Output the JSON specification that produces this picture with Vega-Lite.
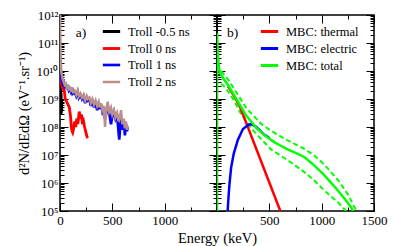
{
"$schema": "https://vega.github.io/schema/vega-lite/v6.json",
"padding": {"left": 15, "top": 8, "right": 5, "bottom": 0},
"bounds": "flush",
"spacing": 0,
"config": {
  "font": "Liberation Serif",
  "view": {"stroke": "black", "strokeWidth": 1.5},
  "axis": {"domain": false, "grid": false, "tickColor": "black", "tickWidth": 1, "labelFont": "Liberation Serif", "labelFontSize": 13, "labelColor": "black", "titleFont": "Liberation Serif", "titleFontSize": 14.5, "titleFontWeight": "normal", "titleColor": "black", "labelOverlap": false, "labelFlush": false},
  "legend": {"orient": "none", "title": null, "symbolType": "stroke", "symbolSize": 300, "symbolStrokeWidth": 3, "labelFont": "Liberation Serif", "labelFontSize": 12.5, "labelColor": "black", "rowPadding": 0, "padding": 0, "labelOffset": 6}
},
"datasets": {
  "left": [
    {"s":"Troll -0.5 ns","E":2,"v":3.98e9},{"s":"Troll -0.5 ns","E":4,"v":3.16e8},{"s":"Troll -0.5 ns","E":6,"v":2.51e9},{"s":"Troll -0.5 ns","E":8,"v":2.82e8},{"s":"Troll -0.5 ns","E":10,"v":1.58e9},{"s":"Troll -0.5 ns","E":12,"v":3.16e8},{"s":"Troll -0.5 ns","E":14,"v":1e9},{"s":"Troll -0.5 ns","E":16,"v":3.98e8},
    {"s":"Troll 0 ns","E":3,"v":5.01e9},{"s":"Troll 0 ns","E":5,"v":7.94e9},{"s":"Troll 0 ns","E":12,"v":3.98e9},{"s":"Troll 0 ns","E":20,"v":2.82e9},{"s":"Troll 0 ns","E":30,"v":2.24e9},{"s":"Troll 0 ns","E":41,"v":2.0e9},{"s":"Troll 0 ns","E":50,"v":1.0e9},{"s":"Troll 0 ns","E":57,"v":8.91e8},{"s":"Troll 0 ns","E":70,"v":7.08e8},{"s":"Troll 0 ns","E":89,"v":5.01e8},{"s":"Troll 0 ns","E":100,"v":2.51e8},{"s":"Troll 0 ns","E":108,"v":1.0e8},{"s":"Troll 0 ns","E":115,"v":7.08e7},{"s":"Troll 0 ns","E":121,"v":6.31e7},{"s":"Troll 0 ns","E":130,"v":8.91e7},{"s":"Troll 0 ns","E":140,"v":1.58e8},{"s":"Troll 0 ns","E":150,"v":1.0e8},{"s":"Troll 0 ns","E":160,"v":2.0e8},{"s":"Troll 0 ns","E":170,"v":1.26e8},{"s":"Troll 0 ns","E":184,"v":3.55e8},{"s":"Troll 0 ns","E":195,"v":2.0e8},{"s":"Troll 0 ns","E":205,"v":2.82e8},{"s":"Troll 0 ns","E":215,"v":1.26e8},{"s":"Troll 0 ns","E":225,"v":1.58e8},{"s":"Troll 0 ns","E":235,"v":1.0e8},{"s":"Troll 0 ns","E":248,"v":6.31e7},{"s":"Troll 0 ns","E":258,"v":4.47e7},{"s":"Troll 0 ns","E":265,"v":3.98e7},
    {"s":"Troll 1 ns","E":1,"v":2.0e10},{"s":"Troll 1 ns","E":4,"v":1.26e10},{"s":"Troll 1 ns","E":8,"v":1.0e10},{"s":"Troll 1 ns","E":12,"v":6.31e9},{"s":"Troll 1 ns","E":18,"v":4.47e9},{"s":"Troll 1 ns","E":26,"v":3.55e9},{"s":"Troll 1 ns","E":35,"v":3.98e9},{"s":"Troll 1 ns","E":45,"v":2.82e9},{"s":"Troll 1 ns","E":55,"v":3.16e9},{"s":"Troll 1 ns","E":65,"v":2.24e9},{"s":"Troll 1 ns","E":74,"v":3.16e9},{"s":"Troll 1 ns","E":85,"v":2.0e9},{"s":"Troll 1 ns","E":95,"v":2.24e9},{"s":"Troll 1 ns","E":105,"v":1.78e9},{"s":"Troll 1 ns","E":115,"v":2.51e9},{"s":"Troll 1 ns","E":125,"v":1.58e9},{"s":"Troll 1 ns","E":140,"v":1.78e9},{"s":"Troll 1 ns","E":155,"v":1.26e9},{"s":"Troll 1 ns","E":169,"v":1.78e9},{"s":"Troll 1 ns","E":180,"v":1.12e9},{"s":"Troll 1 ns","E":195,"v":1.41e9},{"s":"Troll 1 ns","E":210,"v":1.0e9},{"s":"Troll 1 ns","E":225,"v":1.26e9},{"s":"Troll 1 ns","E":240,"v":7.08e8},{"s":"Troll 1 ns","E":255,"v":1.12e9},{"s":"Troll 1 ns","E":265,"v":8.91e8},{"s":"Troll 1 ns","E":280,"v":1.0e9},{"s":"Troll 1 ns","E":295,"v":5.62e8},{"s":"Troll 1 ns","E":310,"v":8.91e8},{"s":"Troll 1 ns","E":325,"v":5.01e8},{"s":"Troll 1 ns","E":340,"v":7.94e8},{"s":"Troll 1 ns","E":355,"v":3.98e8},{"s":"Troll 1 ns","E":370,"v":7.08e8},{"s":"Troll 1 ns","E":380,"v":4.47e8},{"s":"Troll 1 ns","E":392,"v":6.31e8},{"s":"Troll 1 ns","E":405,"v":3.55e8},{"s":"Troll 1 ns","E":420,"v":5.01e8},{"s":"Troll 1 ns","E":430,"v":2.0e8},{"s":"Troll 1 ns","E":440,"v":2.82e8},{"s":"Troll 1 ns","E":455,"v":5.01e8},{"s":"Troll 1 ns","E":470,"v":3.16e8},{"s":"Troll 1 ns","E":487,"v":1.26e8},{"s":"Troll 1 ns","E":500,"v":2.51e8},{"s":"Troll 1 ns","E":515,"v":3.55e8},{"s":"Troll 1 ns","E":530,"v":2.0e8},{"s":"Troll 1 ns","E":545,"v":2.82e8},{"s":"Troll 1 ns","E":555,"v":1.0e8},{"s":"Troll 1 ns","E":566,"v":3.55e7},{"s":"Troll 1 ns","E":575,"v":1.0e8},{"s":"Troll 1 ns","E":583,"v":2.0e8},{"s":"Troll 1 ns","E":595,"v":7.94e7},{"s":"Troll 1 ns","E":610,"v":1.58e8},{"s":"Troll 1 ns","E":620,"v":5.01e7},{"s":"Troll 1 ns","E":630,"v":1.26e8},{"s":"Troll 1 ns","E":640,"v":7.08e7},{"s":"Troll 1 ns","E":646,"v":1.0e8},
    {"s":"Troll 2 ns","E":1,"v":1e12},{"s":"Troll 2 ns","E":3,"v":1.58e11},{"s":"Troll 2 ns","E":5,"v":6.31e10},{"s":"Troll 2 ns","E":8,"v":2.0e10},{"s":"Troll 2 ns","E":12,"v":1.0e10},{"s":"Troll 2 ns","E":18,"v":7.08e9},{"s":"Troll 2 ns","E":26,"v":5.01e9},{"s":"Troll 2 ns","E":35,"v":3.98e9},{"s":"Troll 2 ns","E":45,"v":3.16e9},{"s":"Troll 2 ns","E":55,"v":3.55e9},{"s":"Troll 2 ns","E":65,"v":2.51e9},{"s":"Troll 2 ns","E":74,"v":2.82e9},{"s":"Troll 2 ns","E":85,"v":2.24e9},{"s":"Troll 2 ns","E":95,"v":2.51e9},{"s":"Troll 2 ns","E":105,"v":2.0e9},{"s":"Troll 2 ns","E":115,"v":2.24e9},{"s":"Troll 2 ns","E":125,"v":1.78e9},{"s":"Troll 2 ns","E":140,"v":2.0e9},{"s":"Troll 2 ns","E":155,"v":1.41e9},{"s":"Troll 2 ns","E":169,"v":2.0e9},{"s":"Troll 2 ns","E":180,"v":1.26e9},{"s":"Troll 2 ns","E":195,"v":1.58e9},{"s":"Troll 2 ns","E":210,"v":1.12e9},{"s":"Troll 2 ns","E":225,"v":1.41e9},{"s":"Troll 2 ns","E":240,"v":8.91e8},{"s":"Troll 2 ns","E":255,"v":1.26e9},{"s":"Troll 2 ns","E":265,"v":1.0e9},{"s":"Troll 2 ns","E":280,"v":1.12e9},{"s":"Troll 2 ns","E":295,"v":7.08e8},{"s":"Troll 2 ns","E":310,"v":1.0e9},{"s":"Troll 2 ns","E":325,"v":6.31e8},{"s":"Troll 2 ns","E":340,"v":8.91e8},{"s":"Troll 2 ns","E":355,"v":5.62e8},{"s":"Troll 2 ns","E":370,"v":7.94e8},{"s":"Troll 2 ns","E":380,"v":5.01e8},{"s":"Troll 2 ns","E":392,"v":7.08e8},{"s":"Troll 2 ns","E":405,"v":3.98e8},{"s":"Troll 2 ns","E":420,"v":5.62e8},{"s":"Troll 2 ns","E":430,"v":1.0e8},{"s":"Troll 2 ns","E":440,"v":3.16e8},{"s":"Troll 2 ns","E":455,"v":7.94e8},{"s":"Troll 2 ns","E":470,"v":3.55e8},{"s":"Troll 2 ns","E":487,"v":5.01e8},{"s":"Troll 2 ns","E":500,"v":2.82e8},{"s":"Troll 2 ns","E":515,"v":3.98e8},{"s":"Troll 2 ns","E":530,"v":2.24e8},{"s":"Troll 2 ns","E":545,"v":3.16e8},{"s":"Troll 2 ns","E":560,"v":1.58e8},{"s":"Troll 2 ns","E":575,"v":2.51e8},{"s":"Troll 2 ns","E":583,"v":3.98e8},{"s":"Troll 2 ns","E":595,"v":1.26e8},{"s":"Troll 2 ns","E":610,"v":2.0e8},{"s":"Troll 2 ns","E":620,"v":8.91e7},{"s":"Troll 2 ns","E":630,"v":1.58e8},{"s":"Troll 2 ns","E":640,"v":7.94e7},{"s":"Troll 2 ns","E":646,"v":1.12e8}
  ],
  "right": [
    {"s":"MBC: thermal","E":105,"v":2.82e9},{"s":"MBC: thermal","E":153,"v":1.48e9},{"s":"MBC: thermal","E":217,"v":5.62e8},{"s":"MBC: thermal","E":605,"v":1e5},
    {"s":"MBC: electric","E":102,"v":1e5},{"s":"MBC: electric","E":110,"v":3.16e5},{"s":"MBC: electric","E":120,"v":1e6},{"s":"MBC: electric","E":135,"v":3.55e6},{"s":"MBC: electric","E":160,"v":1.12e7},{"s":"MBC: electric","E":200,"v":3.55e7},{"s":"MBC: electric","E":248,"v":8.51e7},{"s":"MBC: electric","E":300,"v":1.2e8},{"s":"MBC: electric","E":330,"v":1.26e8},{"s":"MBC: electric","E":375,"v":1e8},{"s":"MBC: electric","E":440,"v":5.75e7},{"s":"MBC: electric","E":503,"v":3.98e7},
    {"s":"MBC: total","E":0,"v":1e5},{"s":"MBC: total","E":1,"v":2.24e11},{"s":"MBC: total","E":5,"v":7.94e10},{"s":"MBC: total","E":12,"v":2.51e10},{"s":"MBC: total","E":22,"v":1.12e10},{"s":"MBC: total","E":32,"v":8.32e9},{"s":"MBC: total","E":57,"v":5.62e9},{"s":"MBC: total","E":105,"v":3.16e9},{"s":"MBC: total","E":153,"v":1.58e9},{"s":"MBC: total","E":217,"v":6.31e8},{"s":"MBC: total","E":280,"v":2.51e8},{"s":"MBC: total","E":330,"v":1.51e8},{"s":"MBC: total","E":375,"v":9.55e7},{"s":"MBC: total","E":420,"v":6.61e7},{"s":"MBC: total","E":471,"v":4.57e7},{"s":"MBC: total","E":550,"v":2.82e7},{"s":"MBC: total","E":610,"v":2.14e7},{"s":"MBC: total","E":675,"v":1.58e7},{"s":"MBC: total","E":750,"v":1.2e7},{"s":"MBC: total","E":834,"v":8.51e6},{"s":"MBC: total","E":929,"v":4.27e6},{"s":"MBC: total","E":1025,"v":1.91e6},{"s":"MBC: total","E":1153,"v":5.5e5},{"s":"MBC: total","E":1220,"v":2.75e5},{"s":"MBC: total","E":1280,"v":1.38e5},{"s":"MBC: total","E":1300,"v":1e5}
  ],
  "band": [
    {"b":"up","E":40,"v":1e10},{"b":"up","E":57,"v":8.32e9},{"b":"up","E":105,"v":5.01e9},{"b":"up","E":153,"v":2.69e9},{"b":"up","E":217,"v":1.12e9},{"b":"up","E":280,"v":4.79e8},{"b":"up","E":344,"v":2.63e8},{"b":"up","E":420,"v":1.32e8},{"b":"up","E":503,"v":7.94e7},{"b":"up","E":600,"v":4.79e7},{"b":"up","E":675,"v":3.31e7},{"b":"up","E":750,"v":2.4e7},{"b":"up","E":834,"v":1.66e7},{"b":"up","E":929,"v":9.55e6},{"b":"up","E":1025,"v":4.57e6},{"b":"up","E":1153,"v":1.32e6},{"b":"up","E":1250,"v":3.98e5},{"b":"up","E":1311,"v":1.41e5},{"b":"up","E":1335,"v":1e5},
    {"b":"lo","E":40,"v":3.55e9},{"b":"lo","E":80,"v":2.51e9},{"b":"lo","E":121,"v":1.55e9},{"b":"lo","E":170,"v":7.94e8},{"b":"lo","E":217,"v":3.55e8},{"b":"lo","E":280,"v":1.51e8},{"b":"lo","E":344,"v":7.59e7},{"b":"lo","E":440,"v":3.16e7},{"b":"lo","E":516,"v":1.58e7},{"b":"lo","E":599,"v":1e7},{"b":"lo","E":675,"v":6.46e6},{"b":"lo","E":750,"v":4.17e6},{"b":"lo","E":834,"v":2.45e6},{"b":"lo","E":920,"v":1.32e6},{"b":"lo","E":993,"v":7.08e5},{"b":"lo","E":1080,"v":3.55e5},{"b":"lo","E":1153,"v":2.09e5},{"b":"lo","E":1232,"v":1e5}
  ],
  "tagA": [{"E":200,"v":2.2e11,"t":"a)"}],
  "tagB": [{"E":150,"v":2.2e11,"t":"b)"}]
},
"resolve": {"scale": {"x": "independent", "y": "independent", "color": "independent", "strokeWidth": "independent"}, "legend": {"color": "independent"}},
"hconcat": [
  {
    "width": 157, "height": 196,
    "resolve": {"axis": {"x": "independent", "y": "independent"}},
    "layer": [
      {
        "data": {"name": "left"},
        "mark": {"type": "line", "clip": true},
        "encoding": {
          "x": {"field": "E", "type": "quantitative", "scale": {"domain": [0, 1500], "nice": false, "zero": false},
            "axis": {"orient": "bottom", "values": [0,250,500,750,1000,1250,1500], "labelExpr": "datum.value % 500 == 0 && datum.value < 1500 ? '' + datum.value : ''", "labelPadding": 11, "tickSize": {"condition": {"test": "datum.value % 500 == 0", "value": -8}, "value": -4}, "title": "Energy (keV)", "titleX": 157, "titlePadding": 0}},
          "y": {"field": "v", "type": "quantitative", "scale": {"type": "log", "domain": [1e5, 1e12], "nice": false},
            "axis": {"orient": "left", "values": [1e5,2e5,3e5,4e5,5e5,6e5,7e5,8e5,9e5,1e6,2e6,3e6,4e6,5e6,6e6,7e6,8e6,9e6,1e7,2e7,3e7,4e7,5e7,6e7,7e7,8e7,9e7,1e8,2e8,3e8,4e8,5e8,6e8,7e8,8e8,9e8,1e9,2e9,3e9,4e9,5e9,6e9,7e9,8e9,9e9,1e10,2e10,3e10,4e10,5e10,6e10,7e10,8e10,9e10,1e11,2e11,3e11,4e11,5e11,6e11,7e11,8e11,9e11,1e12],
              "labelExpr": "abs(log(datum.value)/LN10 - round(log(datum.value)/LN10)) < 0.001 ? '10' + ['⁵','⁶','⁷','⁸','⁹','¹⁰','¹¹','¹²'][round(log(datum.value)/LN10)-5] : ''",
              "tickSize": {"condition": {"test": "abs(log(datum.value)/LN10 - round(log(datum.value)/LN10)) < 0.001", "value": -8}, "value": -4},
              "labelPadding": 10, "title": "d²N/dEdΩ (eV⁻¹.sr⁻¹)", "titlePadding": 5}},
          "color": {"field": "s", "type": "nominal", "scale": {"domain": ["Troll -0.5 ns", "Troll 0 ns", "Troll 1 ns", "Troll 2 ns"], "range": ["#000000", "#ff0000", "#0000ff", "#bc8f8f"]},
            "legend": {"legendX": 41, "legendY": 6}},
          "strokeWidth": {"field": "s", "type": "nominal", "scale": {"domain": ["Troll -0.5 ns", "Troll 0 ns", "Troll 1 ns", "Troll 2 ns"], "range": [3, 2.5, 2.5, 4]}, "legend": null}
        }
      },
      {
        "data": {"name": "left"},
        "mark": {"type": "line", "opacity": 0},
        "encoding": {
          "x": {"field": "E", "type": "quantitative", "axis": {"orient": "top", "values": [0,250,500,750,1000,1250,1500], "labels": false, "title": null, "tickSize": {"condition": {"test": "datum.value % 500 == 0", "value": -8}, "value": -4}}},
          "y": {"field": "v", "type": "quantitative", "axis": {"orient": "right", "values": [1e5,2e5,3e5,4e5,5e5,6e5,7e5,8e5,9e5,1e6,2e6,3e6,4e6,5e6,6e6,7e6,8e6,9e6,1e7,2e7,3e7,4e7,5e7,6e7,7e7,8e7,9e7,1e8,2e8,3e8,4e8,5e8,6e8,7e8,8e8,9e8,1e9,2e9,3e9,4e9,5e9,6e9,7e9,8e9,9e9,1e10,2e10,3e10,4e10,5e10,6e10,7e10,8e10,9e10,1e11,2e11,3e11,4e11,5e11,6e11,7e11,8e11,9e11,1e12], "labels": false, "title": null,
            "tickSize": {"condition": {"test": "abs(log(datum.value)/LN10 - round(log(datum.value)/LN10)) < 0.001", "value": -8}, "value": -4}}},
          "detail": {"field": "s"}
        }
      },
      {
        "data": {"name": "tagA"},
        "mark": {"type": "text", "font": "Liberation Serif", "fontSize": 13.5, "color": "black"},
        "encoding": {
          "x": {"field": "E", "type": "quantitative", "axis": null},
          "y": {"field": "v", "type": "quantitative", "axis": null},
          "text": {"field": "t"}
        }
      }
    ]
  },
  {
    "width": 157, "height": 196,
    "resolve": {"axis": {"x": "independent", "y": "independent"}},
    "layer": [
      {
        "data": {"name": "band"},
        "mark": {"type": "line", "clip": true, "color": "#00ff00", "strokeWidth": 2, "strokeDash": [5, 3]},
        "encoding": {
          "x": {"field": "E", "type": "quantitative", "scale": {"domain": [0, 1500], "nice": false, "zero": false},
            "axis": {"orient": "bottom", "values": [0,250,500,750,1000,1250,1500], "labelExpr": "datum.value % 500 == 0 && datum.value > 0 ? '' + datum.value : ''", "labelPadding": 11, "tickSize": {"condition": {"test": "datum.value % 500 == 0", "value": -8}, "value": -4}, "title": null}},
          "y": {"field": "v", "type": "quantitative", "scale": {"type": "log", "domain": [1e5, 1e12], "nice": false},
            "axis": {"orient": "left", "values": [1e5,2e5,3e5,4e5,5e5,6e5,7e5,8e5,9e5,1e6,2e6,3e6,4e6,5e6,6e6,7e6,8e6,9e6,1e7,2e7,3e7,4e7,5e7,6e7,7e7,8e7,9e7,1e8,2e8,3e8,4e8,5e8,6e8,7e8,8e8,9e8,1e9,2e9,3e9,4e9,5e9,6e9,7e9,8e9,9e9,1e10,2e10,3e10,4e10,5e10,6e10,7e10,8e10,9e10,1e11,2e11,3e11,4e11,5e11,6e11,7e11,8e11,9e11,1e12], "labels": false, "title": null,
              "tickSize": {"condition": {"test": "abs(log(datum.value)/LN10 - round(log(datum.value)/LN10)) < 0.001", "value": -8}, "value": -4}}},
          "detail": {"field": "b"}
        }
      },
      {
        "data": {"name": "right"},
        "mark": {"type": "line", "clip": true, "strokeWidth": 2.5},
        "encoding": {
          "x": {"field": "E", "type": "quantitative", "axis": {"orient": "top", "values": [0,250,500,750,1000,1250,1500], "labels": false, "title": null, "tickSize": {"condition": {"test": "datum.value % 500 == 0", "value": -8}, "value": -4}}},
          "y": {"field": "v", "type": "quantitative", "axis": {"orient": "right", "values": [1e5,2e5,3e5,4e5,5e5,6e5,7e5,8e5,9e5,1e6,2e6,3e6,4e6,5e6,6e6,7e6,8e6,9e6,1e7,2e7,3e7,4e7,5e7,6e7,7e7,8e7,9e7,1e8,2e8,3e8,4e8,5e8,6e8,7e8,8e8,9e8,1e9,2e9,3e9,4e9,5e9,6e9,7e9,8e9,9e9,1e10,2e10,3e10,4e10,5e10,6e10,7e10,8e10,9e10,1e11,2e11,3e11,4e11,5e11,6e11,7e11,8e11,9e11,1e12], "labels": false, "title": null,
            "tickSize": {"condition": {"test": "abs(log(datum.value)/LN10 - round(log(datum.value)/LN10)) < 0.001", "value": -8}, "value": -4}}},
          "color": {"field": "s", "type": "nominal", "scale": {"domain": ["MBC: thermal", "MBC: electric", "MBC: total"], "range": ["#ff0000", "#0000ff", "#00ff00"]},
            "legend": {"legendX": 42, "legendY": 6}}
        }
      },
      {
        "data": {"name": "tagB"},
        "mark": {"type": "text", "font": "Liberation Serif", "fontSize": 13.5, "color": "black"},
        "encoding": {
          "x": {"field": "E", "type": "quantitative", "axis": null},
          "y": {"field": "v", "type": "quantitative", "axis": null},
          "text": {"field": "t"}
        }
      }
    ]
  }
]
}
